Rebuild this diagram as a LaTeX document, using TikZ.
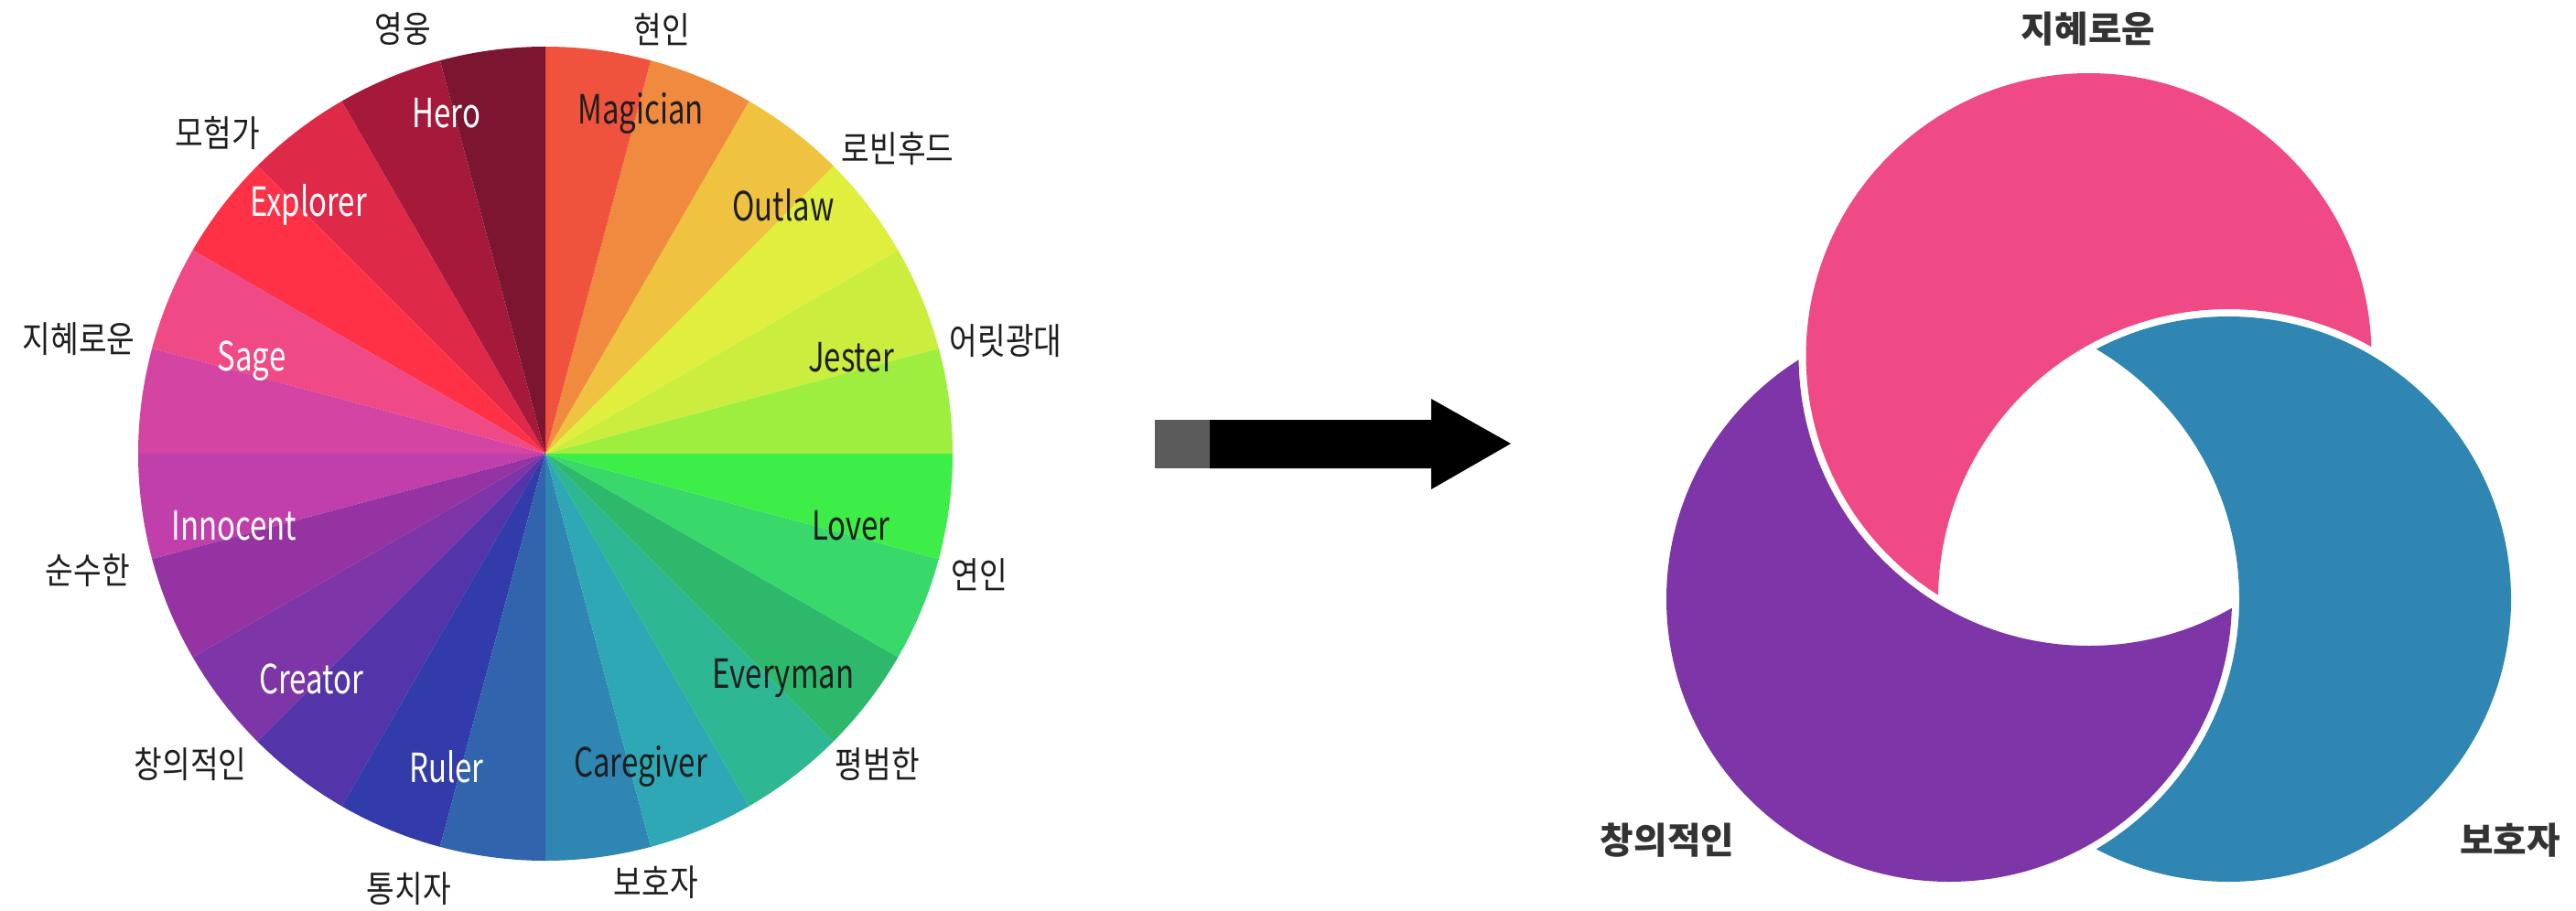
\documentclass[tikz,border=0pt]{standalone}
\usepackage{fontspec}
\newfontfamily\wheelfont[FakeStretch=0.75]{Noto Sans CJK KR}
\newfontfamily\korfont[FakeStretch=0.84]{Noto Sans CJK KR}
\newfontfamily\krfont{Noto Sans CJK KR}

% slice colours, two per archetype
\definecolor{jesterA}{HTML}{9DEE3E}
\definecolor{jesterB}{HTML}{CBEE3E}
\definecolor{outlawA}{HTML}{E0EE3E}
\definecolor{outlawB}{HTML}{EFC33F}
\definecolor{magicianA}{HTML}{EF8A3F}
\definecolor{magicianB}{HTML}{EF533E}
\definecolor{heroA}{HTML}{7C1530}
\definecolor{heroB}{HTML}{A51A3A}
\definecolor{explorerA}{HTML}{DE2A48}
\definecolor{explorerB}{HTML}{FF3147}
\definecolor{sageA}{HTML}{EF4A86}
\definecolor{sageB}{HTML}{D444A3}
\definecolor{innocentA}{HTML}{C13FAA}
\definecolor{innocentB}{HTML}{9633A2}
\definecolor{creatorA}{HTML}{7E35A7}
\definecolor{creatorB}{HTML}{5334A9}
\definecolor{rulerA}{HTML}{323BAA}
\definecolor{rulerB}{HTML}{3164AD}
\definecolor{caregiverA}{HTML}{2F86B2}
\definecolor{caregiverB}{HTML}{2FA8B5}
\definecolor{everymanA}{HTML}{2DB793}
\definecolor{everymanB}{HTML}{2DB86B}
\definecolor{loverA}{HTML}{39D86B}
\definecolor{loverB}{HTML}{3EEE48}
\definecolor{labeldark}{HTML}{1E1E1E}
\definecolor{typegray}{HTML}{333333}
\definecolor{arrowgray}{HTML}{5B5B5B}

\newcommand\wheelr{4.45}
\newcommand\ringr{3.09}
\newcommand\ringcut{3.17}

\begin{document}
\begin{tikzpicture}
        \tikzstyle{darklabel}=[font=\wheelfont\fontsize{12.5}{15}\selectfont, text=labeldark, inner sep=0pt]
        \tikzstyle{lightlabel}=[darklabel, text=white]
        \tikzstyle{korlabel}=[font=\korfont\fontsize{11.3}{13}\selectfont, text=labeldark, inner sep=0pt]
        \tikzstyle{archetype}=[font=\krfont\bfseries\fontsize{11.3}{13}\selectfont, text=typegray, inner sep=0pt]

        \useasboundingbox (0,0) rectangle (28.15,9.95);

        % the wheel
        \coordinate (wheel) at (5.96,4.99);
        \fill[jesterA] (wheel) -- ++(0:\wheelr) arc (0:15:\wheelr) -- cycle;
        \fill[jesterB] (wheel) -- ++(15:\wheelr) arc (15:30:\wheelr) -- cycle;
        \fill[outlawA] (wheel) -- ++(30:\wheelr) arc (30:45:\wheelr) -- cycle;
        \fill[outlawB] (wheel) -- ++(45:\wheelr) arc (45:60:\wheelr) -- cycle;
        \fill[magicianA] (wheel) -- ++(60:\wheelr) arc (60:75:\wheelr) -- cycle;
        \fill[magicianB] (wheel) -- ++(75:\wheelr) arc (75:90:\wheelr) -- cycle;
        \fill[heroA] (wheel) -- ++(90:\wheelr) arc (90:105:\wheelr) -- cycle;
        \fill[heroB] (wheel) -- ++(105:\wheelr) arc (105:120:\wheelr) -- cycle;
        \fill[explorerA] (wheel) -- ++(120:\wheelr) arc (120:135:\wheelr) -- cycle;
        \fill[explorerB] (wheel) -- ++(135:\wheelr) arc (135:150:\wheelr) -- cycle;
        \fill[sageA] (wheel) -- ++(150:\wheelr) arc (150:165:\wheelr) -- cycle;
        \fill[sageB] (wheel) -- ++(165:\wheelr) arc (165:180:\wheelr) -- cycle;
        \fill[innocentA] (wheel) -- ++(180:\wheelr) arc (180:195:\wheelr) -- cycle;
        \fill[innocentB] (wheel) -- ++(195:\wheelr) arc (195:210:\wheelr) -- cycle;
        \fill[creatorA] (wheel) -- ++(210:\wheelr) arc (210:225:\wheelr) -- cycle;
        \fill[creatorB] (wheel) -- ++(225:\wheelr) arc (225:240:\wheelr) -- cycle;
        \fill[rulerA] (wheel) -- ++(240:\wheelr) arc (240:255:\wheelr) -- cycle;
        \fill[rulerB] (wheel) -- ++(255:\wheelr) arc (255:270:\wheelr) -- cycle;
        \fill[caregiverA] (wheel) -- ++(270:\wheelr) arc (270:285:\wheelr) -- cycle;
        \fill[caregiverB] (wheel) -- ++(285:\wheelr) arc (285:300:\wheelr) -- cycle;
        \fill[everymanA] (wheel) -- ++(300:\wheelr) arc (300:315:\wheelr) -- cycle;
        \fill[everymanB] (wheel) -- ++(315:\wheelr) arc (315:330:\wheelr) -- cycle;
        \fill[loverA] (wheel) -- ++(330:\wheelr) arc (330:345:\wheelr) -- cycle;
        \fill[loverB] (wheel) -- ++(345:\wheelr) arc (345:360:\wheelr) -- cycle;

        \node[lightlabel] (hero) at (4.88,8.71) {Hero};
        \node[darklabel] (magician) at (7.00,8.71) {Magician};
        \node[darklabel] (outlaw) at (8.56,7.71) {Outlaw};
        \node[darklabel] (jester) at (9.30,6.04) {Jester};
        \node[darklabel] (lover) at (9.30,4.20) {Lover};
        \node[darklabel] (everyman) at (8.56,2.53) {Everyman};
        \node[darklabel] (caregiver) at (7.00,1.57) {Caregiver};
        \node[lightlabel] (ruler) at (4.88,1.57) {Ruler};
        \node[lightlabel] (creator) at (3.40,2.53) {Creator};
        \node[lightlabel] (innocent) at (2.56,4.20) {Innocent};
        \node[lightlabel] (sage) at (2.75,6.00) {Sage};
        \node[lightlabel] (explorer) at (3.37,7.71) {Explorer};

        \node[korlabel] (kr-hero) at (4.40,9.63) {영웅};
        \node[korlabel] (kr-magician) at (7.23,9.63) {현인};
        \node[korlabel] (kr-outlaw) at (9.81,8.32) {로빈후드};
        \node[korlabel] (kr-jester) at (10.99,6.22) {어릿광대};
        \node[korlabel] (kr-lover) at (10.70,3.67) {연인};
        \node[korlabel] (kr-everyman) at (9.59,1.59) {평범한};
        \node[korlabel] (kr-caregiver) at (7.17,0.30) {보호자};
        \node[korlabel] (kr-ruler) at (4.47,0.23) {통치자};
        \node[korlabel] (kr-creator) at (2.08,1.59) {창의적인};
        \node[korlabel] (kr-innocent) at (0.96,3.71) {순수한};
        \node[korlabel] (kr-sage) at (0.86,6.24) {지혜로운};
        \node[korlabel] (kr-explorer) at (2.38,8.50) {모험가};

        % block arrow
        \fill[arrowgray] (12.62,4.83) rectangle (13.22,5.36);
        \fill[black] (13.22,4.83) -- (15.64,4.83) -- (15.64,4.60) -- (16.51,5.10) -- (15.64,5.59) -- (15.64,5.36) -- (13.22,5.36) -- cycle;

        % three rings, each cut by the next one
        \coordinate (sagec) at (22.825,6.06);
        \coordinate (creatorc) at (21.30,3.40);
        \coordinate (caregiverc) at (24.35,3.40);
        \begin{scope}
            \clip (0,0) -- (0,9.95) -- (28.15,9.95) -- (28.15,0) -- cycle (caregiverc) circle (\ringcut);
            \fill[sageA] (sagec) circle (\ringr);
        \end{scope}
        \begin{scope}
            \clip (0,0) -- (0,9.95) -- (28.15,9.95) -- (28.15,0) -- cycle (creatorc) circle (\ringcut);
            \fill[caregiverA] (caregiverc) circle (\ringr);
        \end{scope}
        \begin{scope}
            \clip (0,0) -- (0,9.95) -- (28.15,9.95) -- (28.15,0) -- cycle (sagec) circle (\ringcut);
            \fill[creatorA] (creatorc) circle (\ringr);
        \end{scope}

        \node[archetype] (wise) at (22.82,9.63) {지혜로운};
        \node[archetype] (creative) at (18.22,0.76) {창의적인};
        \node[archetype] (carer) at (27.43,0.76) {보호자};
    \end{tikzpicture}
\end{document}
